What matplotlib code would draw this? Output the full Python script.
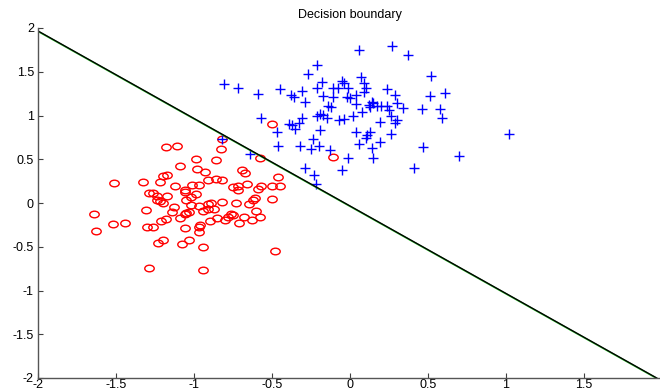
import matplotlib
matplotlib.use("Agg")
import matplotlib.pyplot as plt
import matplotlib.transforms as mtransforms
from matplotlib.path import Path
import numpy as np


# class 1 (blue +)
pos_x = [0.06, 0.27, 0.37, -0.21, -0.27, 0.07, 0.52, -0.81, -0.18, -0.05,
         -0.04, -0.72, -0.45, -0.31, -0.21, -0.11, -0.08, -0.01, 0.10, 0.09,
         0.24, -0.59, -0.38, -0.36, -0.17, -0.11, -0.02, 0.00, 0.04, 0.09,
         0.29, 0.51, 0.61, -0.29, 0.04, 0.12, -0.14, -0.12, 0.14, 0.15,
         0.17, 0.20, 0.24, 0.30, 0.34, 0.25, 0.13, 0.46, 0.58, -0.57,
         -0.31, -0.21, -0.19, -0.17, -0.15, -0.07, -0.04, 0.02, 0.08, 0.26,
         0.59, 0.30, 0.29, 0.19, -0.39, -0.37, -0.35, -0.33, -0.47, -0.19,
         0.04, 0.13, 0.26, 1.02, 0.11, -0.24, 0.10, 0.06, 0.19, -0.82,
         -0.46, -0.32, -0.25, -0.20, -0.13, 0.14, 0.47, -0.64, -0.01, 0.15,
         0.70, -0.29, -0.05, 0.41, -0.23, -0.22]
pos_y = [1.75, 1.80, 1.69, 1.58, 1.47, 1.44, 1.45, 1.36, 1.38, 1.40,
         1.37, 1.31, 1.30, 1.28, 1.31, 1.31, 1.31, 1.31, 1.31, 1.37,
         1.30, 1.25, 1.23, 1.21, 1.22, 1.21, 1.21, 1.20, 1.24, 1.27,
         1.23, 1.22, 1.26, 1.16, 1.13, 1.12, 1.11, 1.10, 1.16, 1.14,
         1.11, 1.11, 1.11, 1.14, 1.09, 1.06, 1.10, 1.07, 1.07, 0.97,
         0.97, 1.00, 1.02, 1.01, 0.97, 0.95, 0.96, 1.00, 1.04, 1.00,
         0.97, 0.95, 0.91, 0.93, 0.90, 0.89, 0.85, 0.92, 0.81, 0.84,
         0.81, 0.81, 0.79, 0.79, 0.78, 0.73, 0.74, 0.67, 0.70, 0.73,
         0.65, 0.65, 0.62, 0.65, 0.61, 0.63, 0.64, 0.56, 0.51, 0.51,
         0.54, 0.40, 0.38, 0.40, 0.32, 0.22]

# class 0 (red o)
neg_x = [-1.18, -1.11, -1.09, -1.51, -1.33, -1.22, -1.20, -1.17, -1.12, -1.29,
         -1.26, -1.24, -1.17, -1.24, -1.22, -1.20, -1.13, -1.06, -1.06, -1.05,
         -1.31, -1.14, -1.64, -1.05, -1.06, -1.21, -1.18, -1.09, -1.52, -1.44,
         -1.63, -1.30, -1.26, -1.06, -1.20, -1.23, -1.08, -1.29, -0.82, -0.83,
         -0.58, -0.99, -0.86, -0.98, -0.93, -0.69, -0.67, -0.46, -0.91, -0.86,
         -0.82, -1.01, -0.97, -0.75, -0.72, -0.72, -0.66, -0.57, -0.59, -0.50,
         -0.45, -0.99, -1.02, -0.82, -0.50, -0.61, -0.62, -1.02, -0.97, -0.91,
         -0.89, -0.73, -0.65, -1.03, -0.94, -0.91, -0.87, -0.60, -0.76, -0.75,
         -0.78, -0.68, -0.63, -0.58, -0.85, -0.80, -0.90, -0.96, -0.97, -0.71,
         -0.97, -1.03, -0.94, -0.48, -0.94, -0.50, -0.11]
neg_y = [0.64, 0.65, 0.42, 0.23, 0.24, 0.24, 0.31, 0.32, 0.20, 0.11,
         0.11, 0.08, 0.08, 0.03, 0.02, 0.00, -0.04, 0.15, 0.13, 0.04,
         -0.08, -0.10, -0.13, -0.11, -0.12, -0.20, -0.18, -0.17, -0.24, -0.23,
         -0.32, -0.27, -0.27, -0.28, -0.42, -0.46, -0.47, -0.74, 0.73, 0.62,
         0.52, 0.50, 0.49, 0.39, 0.35, 0.38, 0.34, 0.30, 0.26, 0.27,
         0.26, 0.21, 0.21, 0.18, 0.19, 0.15, 0.22, 0.19, 0.16, 0.19,
         0.20, 0.10, 0.07, 0.01, 0.05, 0.06, 0.03, -0.02, -0.03, -0.01,
         0.00, 0.00, -0.01, -0.10, -0.09, -0.07, -0.07, -0.09, -0.13, -0.14,
         -0.16, -0.16, -0.19, -0.16, -0.17, -0.19, -0.21, -0.25, -0.27, -0.23,
         -0.33, -0.42, -0.50, -0.55, -0.77, 0.90, 0.53]

# decision boundary end points
boundary_x = [-2.0, 1.966]
boundary_y = [1.966, -2.0]

ticks = [-2, -1.5, -1, -0.5, 0, 0.5, 1, 1.5, 2]
y_tick_labels = ["-2", "-1.5", "-1", "-0.5", "0", "0.5", "1", "1.5", "2"]
# the "2" at the far right falls off the picture in the original
x_tick_labels = ["-2", "-1.5", "-1", "-0.5", "0", "0.5", "1", "1.5", ""]

plt.rcParams["font.family"] = ["Liberation Sans", "DejaVu Sans"]

fig = plt.figure(figsize=(6.6, 3.92), dpi=100)
ax = fig.add_axes([38 / 660, 14 / 392, 624 / 660, 350 / 392])

# MATLAB-ish flattened circle marker
ellipse = Path.unit_circle().transformed(mtransforms.Affine2D().scale(1.0, 0.7))

ax.plot(neg_x, neg_y, linestyle="none", marker=ellipse, markersize=6.8,
        markerfacecolor="none", markeredgecolor="#ff0000", markeredgewidth=1.0)
ax.plot(pos_x, pos_y, linestyle="none", marker="+", markersize=6.5,
        color="#0000ff", markeredgewidth=1.0)

# green line showing slightly under the black one
shifted = mtransforms.offset_copy(ax.transData, fig=fig, x=0.4, y=-0.6, units="dots")
ax.plot(boundary_x, boundary_y, color="#33cc33", linewidth=1.2, transform=shifted)
ax.plot(boundary_x, boundary_y, color="#000000", linewidth=1.0)

ax.set_xlim(-2, 2)
ax.set_ylim(-2, 2)
ax.set_xticks(ticks)
ax.set_xticklabels(x_tick_labels)
ax.set_yticks(ticks)
ax.set_yticklabels(y_tick_labels)
ax.tick_params(direction="in", length=3.5, width=0.8, color="#404040",
               labelsize=9)
ax.tick_params(axis="x", pad=1)
ax.tick_params(axis="y", pad=3)

for side in ["top", "right"]:
    ax.spines[side].set_visible(False)
for side in ["left", "bottom"]:
    ax.spines[side].set_color("#555555")
    ax.spines[side].set_linewidth(1.0)

ax.set_title("Decision boundary", fontsize=9, pad=7)

fig.savefig("out.png", dpi=100)
